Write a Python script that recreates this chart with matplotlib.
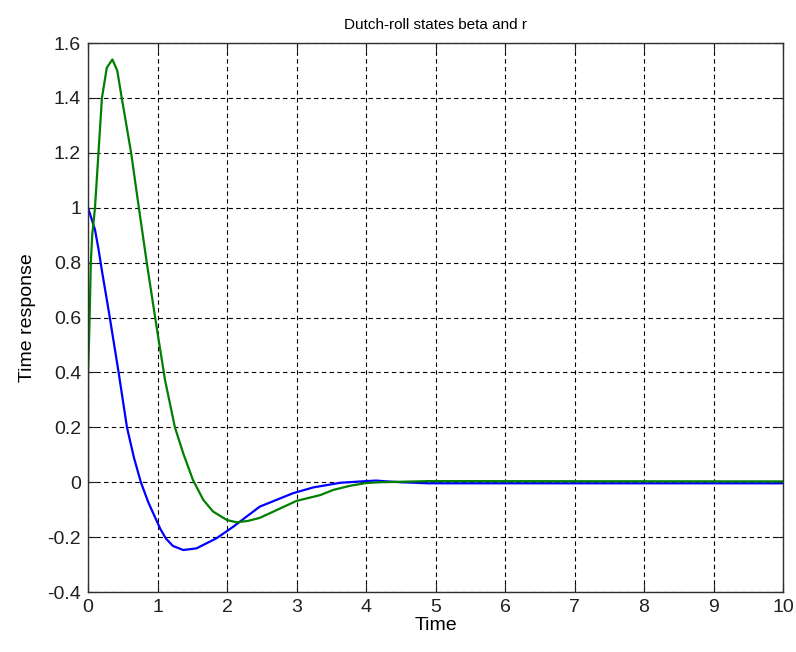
import matplotlib.pyplot as plt

# values
t_beta = [0.0, 0.05, 0.10, 0.15, 0.20, 0.30, 0.44, 0.56, 0.66, 0.76, 0.87, 1.04,
          1.12, 1.22, 1.37, 1.56, 1.85, 2.09, 2.47, 2.95, 3.24, 3.63, 4.00, 4.15,
          4.30, 4.50, 4.90, 10.0]
beta = [1.0, 0.96, 0.92, 0.85, 0.77, 0.62, 0.40, 0.20, 0.09, 0.0, -0.075, -0.17,
        -0.205, -0.232, -0.247, -0.241, -0.204, -0.162, -0.089, -0.040, -0.019,
        -0.002, 0.004, 0.006, 0.003, 0.0, -0.004, -0.004]

t_r = [0.0, 0.001, 0.02, 0.04, 0.06, 0.10, 0.15, 0.20, 0.27, 0.35, 0.42, 0.485,
       0.62, 0.72, 0.845, 0.99, 1.108, 1.25, 1.37, 1.51, 1.66, 1.80, 2.0, 2.14,
       2.30, 2.47, 3.0, 3.34, 3.53, 3.77, 4.0, 4.2, 4.9, 5.4, 10.0]
r = [0.0, 0.40, 0.57, 0.80, 0.90, 1.0, 1.2, 1.4, 1.51, 1.54, 1.50, 1.40,
     1.20, 1.02, 0.80, 0.56, 0.372, 0.2, 0.105, 0.008, -0.065, -0.107, -0.138, -0.146,
     -0.141, -0.13, -0.068, -0.047, -0.028, -0.013, -0.003, 0.0, 0.004, 0.004, 0.003]

x_ticks = list(range(0, 11))
y_ticks = [-0.4, -0.2, 0, 0.2, 0.4, 0.6, 0.8, 1, 1.2, 1.4, 1.6]
y_labels = ["-0.4", "-0.2", "0", "0.2", "0.4", "0.6", "0.8", "1", "1.2", "1.4", "1.6"]

plt.rcParams["font.family"] = ["Liberation Sans", "DejaVu Sans"]

fig = plt.figure(figsize=(7.96, 6.52), dpi=100)
ax = fig.add_axes([0.1106, 0.092, 0.8731, 0.842])

ax.plot(t_beta, beta, color="#0000ff", lw=1.6)
ax.plot(t_r, r, color="#008000", lw=1.6)

ax.set_xlim(0, 10)
ax.set_ylim(-0.4, 1.6)
ax.set_xticks(x_ticks)
ax.set_xticklabels([str(v) for v in x_ticks])
ax.set_yticks(y_ticks)
ax.set_yticklabels(y_labels)

ax.grid(True, color="black", linestyle=(0, (4, 3)), linewidth=0.8)
ax.tick_params(direction="in", length=6, width=0.8, top=True, right=True,
               labelsize=14, colors="#202020", pad=5)
for s in ax.spines.values():
    s.set_color("#303030")
    s.set_linewidth(1.0)

ax.set_title("Dutch-roll states beta and r", fontsize=11, pad=10)
ax.set_xlabel("Time", fontsize=14, labelpad=1)
ax.set_ylabel("Time response", fontsize=14, labelpad=8)

fig.savefig("out.png", dpi=100)
